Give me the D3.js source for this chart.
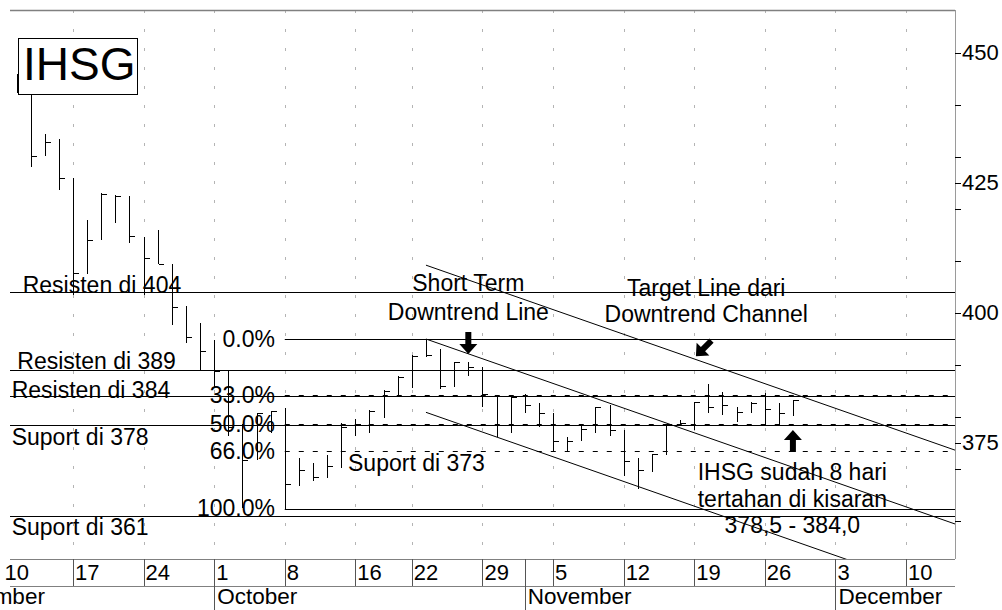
<!DOCTYPE html>
<html>
<head>
<meta charset="utf-8">
<script src="https://cdn.jsdelivr.net/npm/d3@7"></script>
<style>
  body { margin: 0; background: #fff; }
  svg { display: block; font-family: "Liberation Sans", Arial, sans-serif; }
</style>
</head>
<body>
<div id="chart"></div>
<script>
// ---- data (IHSG daily high / low / close, Sep - Nov 2001) ----
const barDates = [
  "2001-09-11", "2001-09-12", "2001-09-13", "2001-09-14", "2001-09-17", "2001-09-18", "2001-09-19",
  "2001-09-20", "2001-09-21", "2001-09-24", "2001-09-25", "2001-09-26", "2001-09-27", "2001-09-28",
  "2001-10-01", "2001-10-02", "2001-10-03", "2001-10-04", "2001-10-05", "2001-10-08", "2001-10-09",
  "2001-10-10", "2001-10-11", "2001-10-12", "2001-10-16", "2001-10-17", "2001-10-18", "2001-10-19",
  "2001-10-22", "2001-10-23", "2001-10-24", "2001-10-25", "2001-10-26", "2001-10-29", "2001-10-30",
  "2001-10-31", "2001-11-01", "2001-11-02", "2001-11-05", "2001-11-06", "2001-11-07", "2001-11-08",
  "2001-11-09", "2001-11-12", "2001-11-13", "2001-11-14", "2001-11-15", "2001-11-16", "2001-11-19",
  "2001-11-20", "2001-11-21", "2001-11-22", "2001-11-23", "2001-11-26", "2001-11-27", "2001-11-28"
];
const highs = [
  446.0, 449.0, 434.4, 433.4, 425.9, 417.9, 423.0, 422.7, 422.5, 414.7, 416.0, 409.4, 401.3, 398.1,
  394.9, 388.9, 378.7, 380.8, 381.2, 381.8, 372.1, 371.1, 372.7, 378.9, 379.6, 381.3, 385.2, 387.9,
  391.9, 395.0, 393.0, 390.6, 390.6, 389.6, 384.2, 384.2, 384.4, 382.6, 380.7, 376.2, 378.5, 381.9,
  382.3, 377.5, 372.1, 372.9, 378.7, 379.4, 382.9, 386.3, 384.9, 381.9, 382.8, 384.7, 382.6, 383.3
];
const lows = [
  442.3, 428.0, 430.1, 423.7, 403.5, 407.5, 414.0, 417.4, 413.4, 403.5, 409.4, 397.7, 394.3, 389.0,
  385.5, 376.3, 362.5, 371.8, 376.9, 362.4, 366.7, 367.6, 368.3, 370.2, 376.3, 376.9, 379.9, 384.1,
  385.5, 391.6, 385.3, 385.8, 387.8, 381.9, 376.2, 377.0, 380.7, 378.1, 373.3, 373.3, 375.3, 376.9,
  376.3, 368.7, 366.1, 369.5, 372.7, 378.5, 377.5, 380.8, 380.4, 379.1, 380.7, 378.3, 378.2, 380.2
];
const closes = [
  446.0, 430.1, 432.9, 425.9, 407.6, 414.0, 422.8, 422.5, 414.9, 410.6, 409.4, 401.2, 395.4, 392.7,
  388.9, 378.0, 371.8, 380.8, 381.2, 367.1, 369.8, 368.5, 370.6, 378.0, 378.7, 381.2, 385.0, 387.7,
  391.8, 391.9, 386.0, 390.5, 389.7, 384.4, 378.5, 383.8, 382.4, 380.8, 375.4, 375.4, 377.6, 381.9,
  377.5, 371.6, 369.8, 372.8, 378.6, 378.9, 382.8, 381.9, 382.3, 381.0, 382.7, 381.5, 380.8, 383.2
];

// axis
const holidays = ["2001-10-15"];
const weekTicks = ["2001-09-10", "2001-09-17", "2001-09-24", "2001-10-01", "2001-10-08", "2001-10-16", "2001-10-22",
  "2001-10-29", "2001-11-05", "2001-11-12", "2001-11-19", "2001-11-26", "2001-12-03", "2001-12-10"];
const monthStarts = ["2001-09-03", "2001-10-01", "2001-11-01", "2001-12-03"];
const monthLabels = ["September", "October", "November", "December"];
const priceTicks = [360, 370, 375, 380, 390, 400, 410, 420, 425, 430, 440, 450];
const priceLabels = [375, 400, 425, 450];

// support / resistance levels
const levels = [404, 389, 384, 378.5, 361];
const levelLabels = ["Resisten di 404", "Resisten di 389", "Resisten di 384", "Suport di 378", "Suport di 361"];

// fibonacci retracement (Oct 8 low -> Oct 23 high)
const fibStart = "2001-10-08";
const fibHigh = 395.0;
const fibLow = 362.4;
const fibRatios = [0, 0.33, 0.5, 0.66, 1];
const fibLabels = ["0.0%", "33.0%", "50.0%", "66.0%", "100.0%"];

// trend lines: start date + price, then days forward + price
const trendLines = [
  { name: "short", from: ["2001-10-23", 395.0], to: [37.5, 359.4] },
  { name: "lower", from: ["2001-10-23", 380.9], to: [37.5, 345.3] },
  { name: "target", from: ["2001-10-23", 409.2], to: [37.5, 373.6] }
];

const supportLabel373 = { text: "Suport di 373", at: 29.48, price: 369.7 };
const notes = [
  { lines: ["Short Term", "Downtrend Line"], at: 38.0, price: [404.2, 398.6] },
  { lines: ["Target Line dari", "Downtrend Channel"], at: 54.85, price: [403.3, 398.2] },
  { lines: ["IHSG sudah 8 hari", "tertahan di kisaran", "378,5 - 384,0"], at: 60.95, price: [367.9, 362.75, 357.7] }
];
const arrows = [
  { at: 38.0, price: 392.1, angle: 0 },
  { at: 54.12, price: 391.7, angle: 45 },
  { at: 60.99, price: 377.5, angle: 180 }
];

// ---- layout ----
const W = 1002, H = 610;
const plot = { left: 10, right: 955, top: 10, bottom: 559 };
const FONT = 23;

const fmt = d3.timeFormat("%Y-%m-%d");
const calendar = d3.timeDay.range(new Date(2001, 8, 3), new Date(2001, 11, 15))
  .filter(d => d.getDay() > 0 && d.getDay() < 6 && !holidays.includes(fmt(d)))
  .map(fmt);
const ci = s => (typeof s === "number" ? s : calendar.indexOf(s));

const x = d3.scaleLinear()
  .domain([ci("2001-09-17"), ci("2001-12-10")])
  .range([73, 906]);
const y = d3.scaleLinear()
  .domain([375, 450])
  .range([443, 53]);
const px = v => Math.round(v) + 0.5;

const svg = d3.select("#chart").append("svg")
  .attr("width", W)
  .attr("height", H);
svg.append("rect").attr("width", W).attr("height", H).attr("fill", "#fff");

svg.append("defs").append("clipPath").attr("id", "plotClip")
  .append("rect")
  .attr("x", plot.left).attr("y", plot.top)
  .attr("width", plot.right - plot.left).attr("height", plot.bottom - plot.top);

// vertical dashed gridlines
svg.append("g").selectAll("line")
  .data(weekTicks.filter(d => x(ci(d)) > plot.left))
  .join("line")
  .attr("x1", d => px(x(ci(d)))).attr("x2", d => px(x(ci(d))))
  .attr("y1", plot.top).attr("y2", plot.bottom)
  .attr("stroke", "#b4b4b4")
  .attr("stroke-dasharray", "3,16");

// frame: top and right
svg.append("line")
  .attr("x1", plot.left).attr("x2", plot.right)
  .attr("y1", plot.top + 0.5).attr("y2", plot.top + 0.5)
  .attr("stroke", "#808080").attr("stroke-width", 1.5);
svg.append("line")
  .attr("x1", plot.right + 0.5).attr("x2", plot.right + 0.5)
  .attr("y1", plot.top).attr("y2", plot.bottom)
  .attr("stroke", "#9a9a9a");

// support / resistance lines
const levelG = svg.append("g");
levelG.selectAll("line")
  .data(levels)
  .join("line")
  .attr("x1", plot.left).attr("x2", plot.right)
  .attr("y1", d => px(y(d))).attr("y2", d => px(y(d)))
  .attr("stroke", "#000");

const levelDx = [12.7, 7.3, 1.7, 1.7, 1.7];
const levelDy = [1, -1, 1.5, 20, 19];
levelG.selectAll("text")
  .data(levels)
  .join("text")
  .attr("x", (d, i) => plot.left + levelDx[i])
  .attr("y", (d, i) => y(d) + levelDy[i])
  .attr("font-size", FONT)
  .attr("fill", "#000")
  .text((d, i) => levelLabels[i]);

// fibonacci retracement
const fibG = svg.append("g");
const fibValue = r => fibHigh - r * (fibHigh - fibLow);
fibG.selectAll("line")
  .data(fibRatios)
  .join("line")
  .attr("x1", x(ci(fibStart))).attr("x2", plot.right)
  .attr("y1", d => px(y(fibValue(d)))).attr("y2", d => px(y(fibValue(d))))
  .attr("stroke", "#000")
  .attr("stroke-dasharray", d => (d === 0 || d === 1) ? null : "5,9");
fibG.selectAll("text")
  .data(fibRatios)
  .join("text")
  .attr("x", x(24.3))
  .attr("y", d => y(fibValue(d)))
  .attr("dy", "0.34em")
  .attr("text-anchor", "end")
  .attr("font-size", FONT)
  .text((d, i) => fibLabels[i]);

// trend lines
const trendG = svg.append("g").attr("clip-path", "url(#plotClip)");
trendG.selectAll("line")
  .data(trendLines)
  .join("line")
  .attr("x1", d => x(ci(d.from[0])))
  .attr("y1", d => y(d.from[1]))
  .attr("x2", d => x(ci(d.from[0]) + d.to[0]))
  .attr("y2", d => y(d.to[1]))
  .attr("stroke", "#000");

// HLC bars
const bars = barDates.map((d, i) => ({ date: d, high: highs[i], low: lows[i], close: closes[i] }));
const barG = svg.append("g").attr("stroke", "#000").attr("shape-rendering", "crispEdges");
barG.selectAll("line.hl")
  .data(bars)
  .join("line")
  .attr("class", "hl")
  .attr("x1", d => px(x(ci(d.date)))).attr("x2", d => px(x(ci(d.date))))
  .attr("y1", d => Math.round(y(d.high))).attr("y2", d => Math.round(y(d.low)));
barG.selectAll("line.cl")
  .data(bars)
  .join("line")
  .attr("class", "cl")
  .attr("x1", d => px(x(ci(d.date)))).attr("x2", d => px(x(ci(d.date))) + 5)
  .attr("y1", d => px(y(d.close))).attr("y2", d => px(y(d.close)));

// text notes
svg.append("text")
  .attr("x", x(supportLabel373.at))
  .attr("y", y(supportLabel373.price))
  .attr("font-size", FONT)
  .text(supportLabel373.text);

notes.forEach(n => {
  svg.append("g").selectAll("text")
    .data(n.lines)
    .join("text")
    .attr("x", x(n.at))
    .attr("y", (d, i) => y(n.price[i]))
    .attr("text-anchor", "middle")
    .attr("font-size", FONT)
    .text(d => d);
});

// block arrows (drawn pointing down, tip at origin)
const arrowPath = "M0,0 L-9,-10 L-3,-10 L-3,-22 L3,-22 L3,-10 L9,-10 Z";
svg.append("g").selectAll("path")
  .data(arrows)
  .join("path")
  .attr("d", arrowPath)
  .attr("transform", d => `translate(${x(d.at)},${y(d.price)}) rotate(${d.angle})`)
  .attr("fill", "#000");

// title box
const title = svg.append("g");
title.append("rect")
  .attr("x", 18.5).attr("y", 38.5)
  .attr("width", 119).attr("height", 56)
  .attr("fill", "#fff").attr("stroke", "#000");
title.append("text")
  .attr("x", 23).attr("y", 80)
  .attr("font-size", 46)
  .text("IHSG");

// right price axis
const yAxisG = svg.append("g");
yAxisG.selectAll("line")
  .data(priceTicks)
  .join("line")
  .attr("x1", plot.right).attr("x2", plot.right + 6)
  .attr("y1", d => px(y(d))).attr("y2", d => px(y(d)))
  .attr("stroke", "#000");
yAxisG.selectAll("text")
  .data(priceLabels)
  .join("text")
  .attr("x", plot.right + 7)
  .attr("y", d => y(d))
  .attr("dy", "0.34em")
  .attr("font-size", 22)
  .text(d => d);

// bottom date axis
const xAxisG = svg.append("g");
xAxisG.selectAll("line.row")
  .data([plot.bottom, plot.bottom + 27])
  .join("line")
  .attr("class", "row")
  .attr("x1", plot.left).attr("x2", plot.right)
  .attr("y1", d => d + 0.5).attr("y2", d => d + 0.5)
  .attr("stroke", "#808080");
xAxisG.selectAll("line.wk")
  .data(weekTicks.filter(d => x(ci(d)) > plot.left))
  .join("line")
  .attr("class", "wk")
  .attr("x1", d => px(x(ci(d)))).attr("x2", d => px(x(ci(d))))
  .attr("y1", plot.bottom).attr("y2", plot.bottom + 27)
  .attr("stroke", "#555");
xAxisG.selectAll("text.wk")
  .data(weekTicks)
  .join("text")
  .attr("class", "wk")
  .attr("x", d => x(ci(d)) + 2)
  .attr("y", plot.bottom + 21)
  .attr("font-size", 22)
  .text(d => +d.slice(8));
xAxisG.selectAll("line.mo")
  .data(monthStarts.filter(d => x(ci(d)) > plot.left))
  .join("line")
  .attr("class", "mo")
  .attr("x1", d => px(x(ci(d)))).attr("x2", d => px(x(ci(d))))
  .attr("y1", plot.bottom).attr("y2", H)
  .attr("stroke", "#555");
xAxisG.selectAll("text.mo")
  .data(monthStarts)
  .join("text")
  .attr("class", "mo")
  .attr("x", d => x(ci(d)) + 3)
  .attr("y", plot.bottom + 45)
  .attr("font-size", 22.5)
  .text((d, i) => monthLabels[i]);
</script>
</body>
</html>
